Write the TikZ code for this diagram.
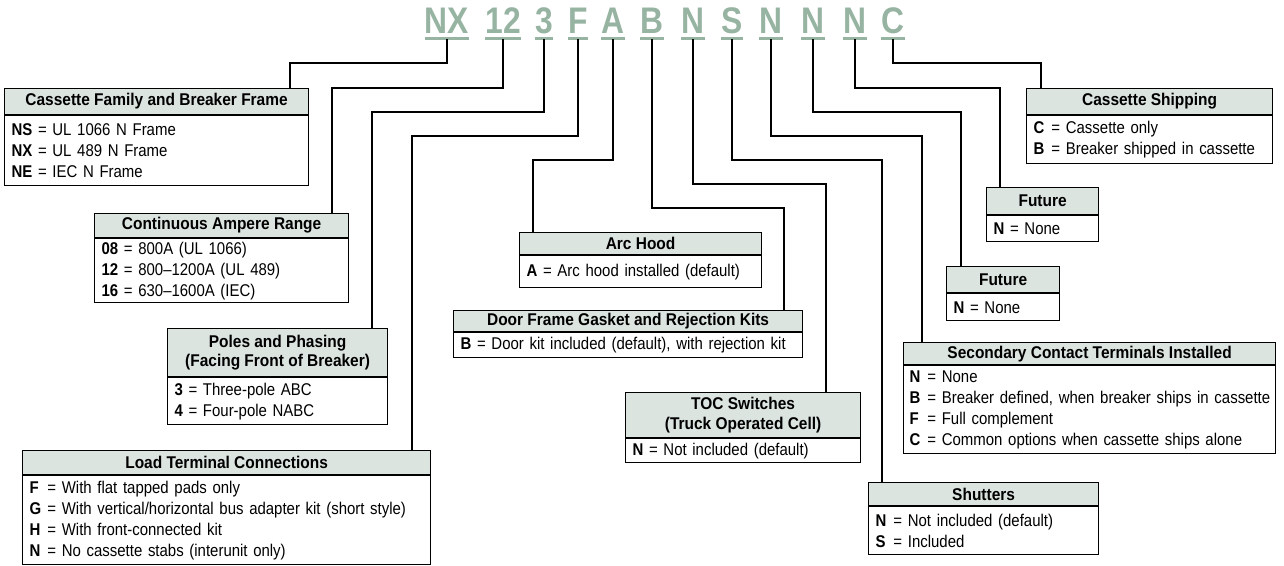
\documentclass[tikz,border=0pt]{standalone}
\usepackage{fontspec}
\setmainfont{Liberation Sans}[FakeStretch=0.88]
\newfontfamily\hdrfont{Liberation Sans}[FakeStretch=0.91]
\newfontfamily\codefont{Liberation Sans}[FakeStretch=0.86]
\definecolor{codecol}{HTML}{97B4A2}
\definecolor{hdrcol}{HTML}{DCE4DF}
\newcommand\kk[1]{\makebox[1.05em][l]{\textbf{#1}}}
\hyphenpenalty=10000\relax
\exhyphenpenalty=10000\relax
\begin{document}
\begin{tikzpicture}[x=1pt,y=-1pt,
  code/.style={anchor=base,inner sep=0pt,text=codecol,font=\codefont\bfseries\fontsize{37}{37}\selectfont},
  uline/.style={draw=codecol,line width=2.4pt},
  conn/.style={draw=black,line width=2pt},
  hdr/.style={draw=black,fill=hdrcol,line width=1.2pt,anchor=north west,align=center,
    inner xsep=6pt,inner ysep=0pt,font=\hdrfont\bfseries\fontsize{17}{19.5}\selectfont},
  bdy/.style={draw=black,fill=white,line width=1.2pt,anchor=north west,align=left,
    inner xsep=7pt,inner ysep=3pt,font=\fontsize{17}{21}\selectfont}
]
\useasboundingbox (0,0) rectangle (1284,565);

% code letters
\node[code] (cNX) at (447,33) {NX};
\node[code] (c12) at (503,33) {12};
\node[code] (c3)  at (544,33) {3};
\node[code] (cF)  at (578,33) {F};
\node[code] (cA)  at (613,33) {A};
\node[code] (cB)  at (652,33) {B};
\node[code] (cN1) at (693,33) {N};
\node[code] (cS)  at (732,33) {S};
\node[code] (cN2) at (771,33) {N};
\node[code] (cN3) at (813,33) {N};
\node[code] (cN4) at (855,33) {N};
\node[code] (cC)  at (893,33) {C};
\foreach \n in {cNX,c12,c3,cF,cA,cB,cN1,cS,cN2,cN3,cN4,cC}{
  \draw[uline] ([yshift=-5.5pt]\n.base west) -- ([yshift=-5.5pt]\n.base east);
}

% boxes
\node[hdr,minimum width=304,minimum height=26] (hCF) at (4,88) {Cassette Family and Breaker Frame};
\node[bdy,text width=290,minimum height=70] (bCF) at (hCF.south west)
  {\textbf{NS} = UL 1066 N Frame\\\textbf{NX} = UL 489 N Frame\\\textbf{NE} = IEC N Frame};

\node[hdr,minimum width=254,minimum height=24] (hCA) at (94,213) {Continuous Ampere Range};
\node[bdy,text width=240,minimum height=61] (bCA) at (hCA.south west)
  {\textbf{08} = 800A (UL 1066)\\\textbf{12} = 800--1200A (UL 489)\\\textbf{16} = 630--1600A (IEC)};

\node[hdr,minimum width=220,minimum height=48] (hPP) at (167,328) {Poles and Phasing\\(Facing Front of Breaker)};
\node[bdy,text width=206,minimum height=47] (bPP) at (hPP.south west)
  {\textbf{3} = Three-pole ABC\\\textbf{4} = Four-pole NABC};

\node[hdr,minimum width=408,minimum height=24] (hLT) at (22,450) {Load Terminal Connections};
\node[bdy,text width=394,minimum height=89] (bLT) at (hLT.south west)
  {\kk{F}= With flat tapped pads only\\\kk{G}= With vertical/horizontal bus adapter kit (short style)\\\kk{H}= With front-connected kit\\\kk{N}= No cassette stabs (interunit only)};

\node[hdr,minimum width=242,minimum height=22] (hAH) at (519,232) {Arc Hood};
\node[bdy,text width=228,minimum height=32] (bAH) at (hAH.south west)
  {\textbf{A} = Arc hood installed (default)};

\node[hdr,minimum width=349,minimum height=21] (hDF) at (453,310) {Door Frame Gasket and Rejection Kits};
\node[bdy,text width=335,minimum height=25] (bDF) at (hDF.south west)
  {\textbf{B} = Door kit included (default), with rejection kit};

\node[hdr,minimum width=235,minimum height=45] (hTOC) at (625,392) {TOC Switches\\(Truck Operated Cell)};
\node[bdy,text width=221,minimum height=24] (bTOC) at (hTOC.south west)
  {\textbf{N} = Not included (default)};

\node[hdr,minimum width=230,minimum height=23] (hSH) at (868,482) {Shutters};
\node[bdy,text width=216,minimum height=48] (bSH) at (hSH.south west)
  {\kk{N}= Not included (default)\\\kk{S}= Included};

\node[hdr,minimum width=372,minimum height=22] (hSC) at (903,342) {Secondary Contact Terminals Installed};
\node[bdy,text width=360,inner xsep=6pt,minimum height=88] (bSC) at (hSC.south west)
  {\kk{N}= None\\\mbox{\kk{B}= Breaker defined, when breaker ships in cassette}\\\kk{F}= Full complement\\\kk{C}= Common options when cassette ships alone};

\node[hdr,minimum width=113,minimum height=26] (hFU2) at (946,266) {Future};
\node[bdy,text width=99,minimum height=27] (bFU2) at (hFU2.south west)
  {\textbf{N} = None};

\node[hdr,minimum width=112,minimum height=27] (hFU1) at (986,187) {Future};
\node[bdy,text width=98,minimum height=26] (bFU1) at (hFU1.south west)
  {\textbf{N} = None};

\node[hdr,minimum width=246,minimum height=26] (hCS) at (1026,88) {Cassette Shipping};
\node[bdy,text width=232,minimum height=48] (bCS) at (hCS.south west)
  {\kk{C}= Cassette only\\\kk{B}= Breaker shipped in cassette};

% turn points
\coordinate (tNX) at (290,63);
\coordinate (t12) at (332,88);
\coordinate (t3)  at (372,112);
\coordinate (tF)  at (412,136);
\coordinate (tA)  at (533,160);
\coordinate (tB)  at (784,208);
\coordinate (tN1) at (826,184);
\coordinate (tS)  at (882,160);
\coordinate (tN2) at (922,136);
\coordinate (tN3) at (961,112);
\coordinate (tN4) at (1000,88);
\coordinate (tC)  at (1041,63);

% connectors
\draw[conn] ([yshift=-6pt]cNX.base) |- (tNX) -- (tNX |- hCF.north);
\draw[conn] ([yshift=-6pt]c12.base) |- (t12) -- (t12 |- hCA.north);
\draw[conn] ([yshift=-6pt]c3.base)  |- (t3)  -- (t3 |- hPP.north);
\draw[conn] ([yshift=-6pt]cF.base)  |- (tF)  -- (tF |- hLT.north);
\draw[conn] ([yshift=-6pt]cA.base)  |- (tA)  -- (tA |- hAH.north);
\draw[conn] ([yshift=-6pt]cB.base)  |- (tB)  -- (tB |- hDF.north);
\draw[conn] ([yshift=-6pt]cN1.base) |- (tN1) -- (tN1 |- hTOC.north);
\draw[conn] ([yshift=-6pt]cS.base)  |- (tS)  -- (tS |- hSH.north);
\draw[conn] ([yshift=-6pt]cN2.base) |- (tN2) -- (tN2 |- hSC.north);
\draw[conn] ([yshift=-6pt]cN3.base) |- (tN3) -- (tN3 |- hFU2.north);
\draw[conn] ([yshift=-6pt]cN4.base) |- (tN4) -- (tN4 |- hFU1.north);
\draw[conn] ([yshift=-6pt]cC.base)  |- (tC)  -- (tC |- hCS.north);
\end{tikzpicture}
\end{document}
